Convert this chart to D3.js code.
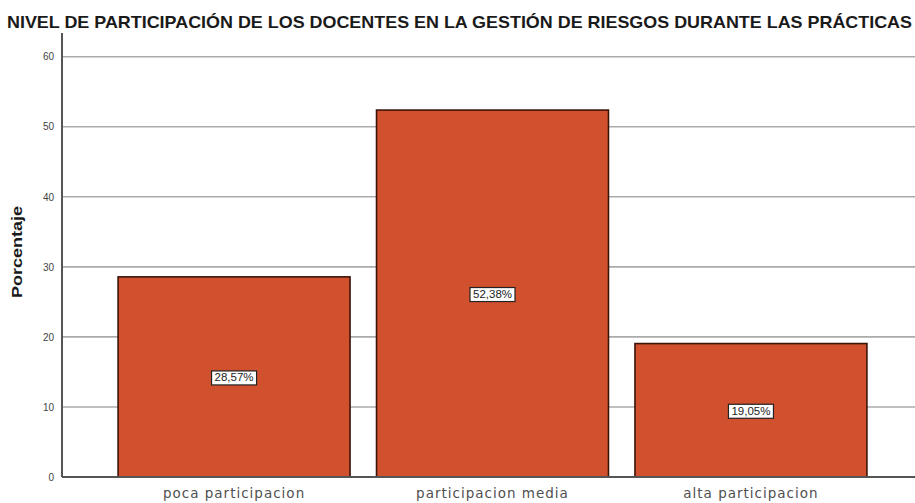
<!DOCTYPE html>
<html>
<head>
<meta charset="utf-8">
<script src="https://cdn.jsdelivr.net/npm/d3@7"></script>
<style>
  html, body { margin: 0; padding: 0; background: #fff; }
  svg { display: block; font-family: "Liberation Sans", Arial, sans-serif; }
</style>
</head>
<body>
<svg id="chart" width="915" height="503"></svg>
<script>
// Participation levels and their percentages
const categories = ["poca participacion", "participacion media", "alta participacion"];
const percentages = [28.57, 52.38, 19.05];
const valueLabels = ["28,57%", "52,38%", "19,05%"];
const yTicks = [0, 10, 20, 30, 40, 50, 60];

const title = "NIVEL DE PARTICIPACIÓN DE LOS DOCENTES EN LA GESTIÓN DE RIESGOS DURANTE LAS PRÁCTICAS";

const svg = d3.select("#chart");
const W = 915, H = 503;
const plotLeft = 62, plotRight = 923, plotTop = 33, plotBottom = 477;

const x = d3.scaleBand()
  .domain(categories)
  .range([plotLeft, plotRight])
  .paddingInner(0.1025)
  .paddingOuter(0.217);

const y = d3.scaleLinear()
  .domain([0, 60])
  .range([plotBottom, 56.7]);

// Title
svg.append("text")
  .attr("x", 7)
  .attr("y", 28)
  .attr("font-size", 17)
  .attr("font-weight", "bold")
  .attr("font-family", "'Liberation Sans Narrow', 'Liberation Sans', Arial, sans-serif")
  .attr("fill", "#1a1a1a")
  .attr("textLength", 905)
  .attr("lengthAdjust", "spacingAndGlyphs")
  .text(title);

// Horizontal gridlines
svg.append("g")
  .selectAll("line")
  .data(yTicks.filter(d => d > 0))
  .join("line")
  .attr("x1", plotLeft)
  .attr("x2", W)
  .attr("y1", d => y(d))
  .attr("y2", d => y(d))
  .attr("stroke", "#ababab")
  .attr("stroke-width", 1.6);

// Y axis with tick labels
const yAxis = d3.axisLeft(y).tickValues(yTicks).tickSize(0).tickPadding(8);
const gy = svg.append("g").attr("transform", `translate(${plotLeft},0)`).call(yAxis);
gy.select(".domain").remove();
gy.selectAll("text")
  .attr("font-size", 10)
  .attr("fill", "#444")
  .attr("font-family", "'Liberation Sans Narrow', 'Liberation Sans', Arial, sans-serif");

// Bars
svg.append("g")
  .selectAll("rect")
  .data(categories)
  .join("rect")
  .attr("x", d => x(d))
  .attr("width", x.bandwidth())
  .attr("y", (d, i) => y(percentages[i]))
  .attr("height", (d, i) => y(0) - y(percentages[i]))
  .attr("fill", "#d1512f")
  .attr("stroke", "#3b1408")
  .attr("stroke-width", 1.6);

// Axis lines
svg.append("line")
  .attr("x1", plotLeft).attr("x2", plotLeft)
  .attr("y1", plotTop).attr("y2", plotBottom)
  .attr("stroke", "#555").attr("stroke-width", 2);
svg.append("line")
  .attr("x1", plotLeft).attr("x2", W)
  .attr("y1", plotBottom).attr("y2", plotBottom)
  .attr("stroke", "#555").attr("stroke-width", 2);

// Value labels inside bars
const lab = svg.append("g")
  .selectAll("g")
  .data(categories)
  .join("g")
  .attr("transform", (d, i) => `translate(${x(d) + x.bandwidth() / 2},${(y(percentages[i]) + y(0)) / 2 + 1})`);
lab.append("rect")
  .attr("x", -22.5).attr("y", -7)
  .attr("width", 45).attr("height", 14)
  .attr("fill", "#fff")
  .attr("stroke", "#222")
  .attr("stroke-width", 1.2);
lab.append("text")
  .attr("text-anchor", "middle")
  .attr("dy", "0.35em")
  .attr("font-size", 10)
  .attr("font-family", "'Liberation Sans Narrow', 'Liberation Sans', Arial, sans-serif")
  .attr("fill", "#222")
  .attr("textLength", 39)
  .attr("lengthAdjust", "spacingAndGlyphs")
  .text((d, i) => valueLabels[i]);

// Category labels
const xAxis = d3.axisBottom(x).tickSize(0).tickPadding(11);
const gx = svg.append("g").attr("transform", `translate(0,${plotBottom})`).call(xAxis);
gx.select(".domain").remove();
gx.selectAll("text")
  .attr("font-size", 13.5)
  .attr("letter-spacing", 1)
  .attr("fill", "#505050")
  .attr("font-family", "'DejaVu Sans', sans-serif");

// Y axis title
svg.append("text")
  .attr("transform", "translate(22,252) rotate(-90)")
  .attr("text-anchor", "middle")
  .attr("font-size", 14)
  .attr("font-weight", "bold")
  .attr("fill", "#1a1a1a")
  .attr("textLength", 92)
  .attr("lengthAdjust", "spacingAndGlyphs")
  .text("Porcentaje");
</script>
</body>
</html>
